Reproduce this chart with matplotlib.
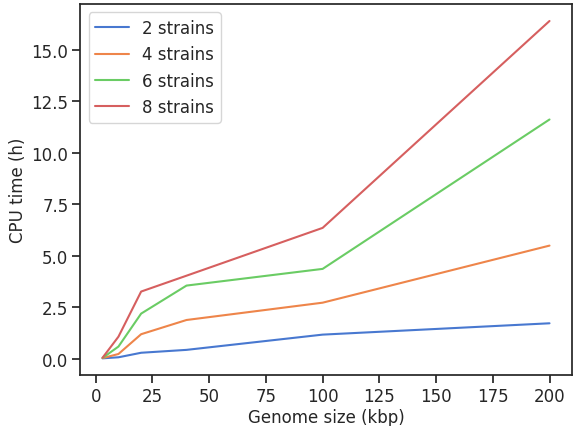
import numpy as np
import matplotlib.pyplot as plt
import seaborn as sns

genome_kbp = [3, 10, 20, 40, 100, 200]
labels = ["2 strains", "4 strains", "6 strains", "8 strains"]
cpu_2 = [0.03, 0.08, 0.30, 0.44, 1.18, 1.73]
cpu_4 = [0.04, 0.24, 1.20, 1.89, 2.73, 5.50]
cpu_6 = [0.05, 0.60, 2.20, 3.56, 4.37, 11.62]
cpu_8 = [0.06, 1.08, 3.27, 4.04, 6.36, 16.40]

sns.set_theme(style="ticks", palette="muted")
plt.rcParams.update({
    "xtick.labelsize": 12,
    "ytick.labelsize": 12,
    "axes.labelsize": 12,
    "legend.fontsize": 12,
    "xtick.major.pad": 2.5,
    "ytick.major.pad": 2.5,
})

fig, ax = plt.subplots(figsize=(5.73, 4.27), dpi=100)
for ys, lab in zip([cpu_2, cpu_4, cpu_6, cpu_8], labels):
    ax.plot(genome_kbp, ys, label=lab)

ax.set_xlabel("Genome size (kbp)", labelpad=2)
ax.set_ylabel("CPU time (h)", labelpad=3)
ax.legend(loc="upper left")

fig.subplots_adjust(left=0.14, right=0.998, top=0.988, bottom=0.119)
fig.savefig("out.png")
